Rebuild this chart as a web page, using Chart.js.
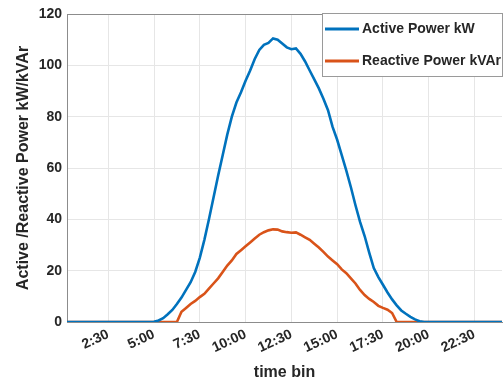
<!DOCTYPE html>
<html>
<head>
<meta charset="utf-8">
<script src="https://cdn.jsdelivr.net/npm/chart.js@4.4.1/dist/chart.umd.min.js"></script>
<style>
  body { margin: 0; background: #fff; }
  #wrap { width: 503px; height: 381px; }
</style>
</head>
<body>
<div id="wrap"><canvas id="powerChart" width="503" height="381"></canvas></div>
<script>
// 15-minute time bins over one day
const timeBins = Array.from({ length: 96 }, (_, i) => i + 1);

const activeKW = [
    0, 0, 0, 0, 0, 0, 0, 0, 0, 0,
    0, 0, 0, 0, 0, 0, 0, 0, 0, 0.1,
    0.6, 1.5, 3, 4.7, 7, 9.5, 12.5, 15.5, 19.5, 25,
    32, 40, 48.5, 57, 65, 73, 80, 85.5, 89.5, 94,
    98, 102.5, 106, 108, 108.7, 110.5, 110, 108.5, 107, 106.3,
    106.6, 104.5, 101.5, 98, 94.5, 91, 87, 82.5, 76, 71,
    65, 59, 52.5, 45.5, 39, 33.5, 27, 21, 17.5, 14.5,
    11.5, 8.8, 6.5, 4.5, 3.2, 2, 1, 0.3, 0, 0,
    0, 0, 0, 0, 0, 0, 0, 0, 0, 0,
    0, 0, 0, 0, 0, 0
];

const reactiveKVAr = [
    0, 0, 0, 0, 0, 0, 0, 0, 0, 0,
    0, 0, 0, 0, 0, 0, 0, 0, 0, 0,
    0, 0, 0, 0, 0, 4, 5.5, 7, 8.2, 9.7,
    11, 13, 15, 17, 19.5, 22, 24, 26.5, 28, 29.5,
    31, 32.5, 34, 35, 35.7, 36.1, 36, 35.3, 35, 34.8,
    34.9, 34, 33, 32, 30.5, 29, 27.3, 25.5, 24, 22.5,
    20.5, 19, 17, 15, 12.5, 10.5, 9, 7.8, 6.3, 5.5,
    4.8, 3.5, 0, 0, 0, 0, 0, 0, 0, 0,
    0, 0, 0, 0, 0, 0, 0, 0, 0, 0,
    0, 0, 0, 0, 0, 0
];

const xTickBins = [10, 20, 30, 40, 50, 60, 70, 80, 90];
const xTickLabels = ['2:30', '5:00', '7:30', '10:00', '12:30', '15:00', '17:30', '20:00', '22:30'];

const FONT = "'Liberation Sans', Arial, sans-serif";
const TEXT = '#262626';

// legend box drawn inside the plot, top right
const boxLegend = {
    id: 'boxLegend',
    afterDraw(chart) {
        const ctx = chart.ctx;
        const x0 = 322, y0 = 13, w = 180, h = 63;
        ctx.save();
        ctx.fillStyle = '#fff';
        ctx.fillRect(x0, y0, w, h);
        ctx.strokeStyle = '#9a9a9a';
        ctx.lineWidth = 1;
        ctx.strokeRect(x0 + 0.5, y0 + 0.5, w, h);
        ctx.font = 'bold 14px ' + FONT;
        ctx.textBaseline = 'middle';
        chart.data.datasets.forEach((ds, i) => {
            const y = y0 + 16 + i * 32;
            ctx.strokeStyle = ds.borderColor;
            ctx.lineWidth = 3;
            ctx.beginPath();
            ctx.moveTo(x0 + 3, y);
            ctx.lineTo(x0 + 37, y);
            ctx.stroke();
            ctx.fillStyle = TEXT;
            ctx.fillText(ds.label, x0 + 40, y);
        });
        ctx.restore();
    }
};

new Chart(document.getElementById('powerChart'), {
    type: 'line',
    data: {
        datasets: [{
            label: 'Active Power kW',
            data: activeKW.map((v, i) => ({ x: timeBins[i], y: v })),
            borderColor: '#0072BD',
            borderWidth: 2.6,
            pointRadius: 0,
            tension: 0
        }, {
            label: 'Reactive Power kVAr',
            data: reactiveKVAr.map((v, i) => ({ x: timeBins[i], y: v })),
            borderColor: '#D95319',
            borderWidth: 2.6,
            pointRadius: 0,
            tension: 0
        }]
    },
    options: {
        responsive: false,
        animation: false,
        layout: { padding: { top: 14, right: 1, left: 0, bottom: 0 } },
        plugins: {
            legend: { display: false },
            tooltip: { enabled: false }
        },
        scales: {
            x: {
                type: 'linear',
                min: 1,
                max: 96,
                afterBuildTicks: (scale) => {
                    scale.ticks = xTickBins.map(v => ({ value: v }));
                },
                afterFit: (scale) => { scale.height = 59; },
                ticks: {
                    minRotation: 25,
                    maxRotation: 25,
                    padding: 4,
                    color: TEXT,
                    font: { family: FONT, size: 14, weight: 'bold' },
                    callback: (value) => xTickLabels[xTickBins.indexOf(value)]
                },
                grid: { color: '#e6e6e6', drawTicks: false },
                border: { color: '#8c8c8c' },
                title: {
                    display: true,
                    text: 'time bin',
                    color: TEXT,
                    font: { family: FONT, size: 16, weight: 'bold', lineHeight: 1 },
                    padding: { top: 0, bottom: 0 }
                }
            },
            y: {
                min: 0,
                max: 120,
                afterFit: (scale) => { scale.width = 67; },
                ticks: {
                    stepSize: 20,
                    padding: 5,
                    color: TEXT,
                    font: { family: FONT, size: 14, weight: 'bold' }
                },
                grid: {
                    drawTicks: false,
                    color: (c) => (c.tick && c.tick.value === 120 ? '#8c8c8c' : '#e6e6e6')
                },
                border: { color: '#8c8c8c' },
                title: {
                    display: true,
                    text: 'Active /Reactive Power kW/kVAr',
                    color: TEXT,
                    font: { family: FONT, size: 16, weight: 'bold', lineHeight: 1.2 },
                    padding: { top: 14, bottom: 0 }
                }
            }
        }
    },
    plugins: [boxLegend]
});
</script>
</body>
</html>
